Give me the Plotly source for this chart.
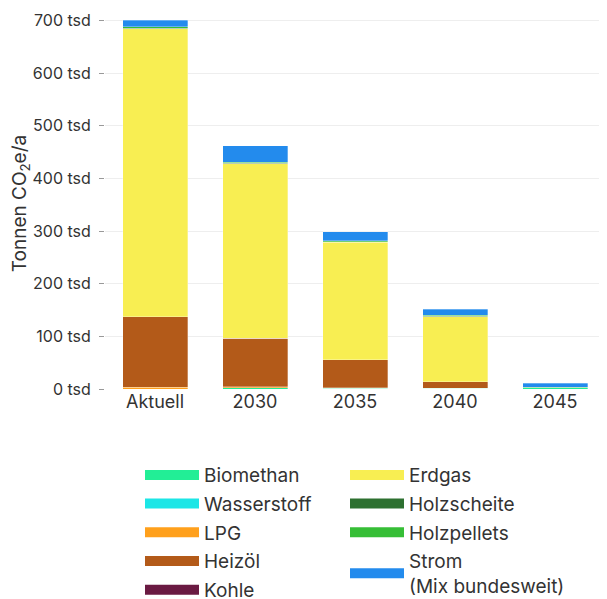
import plotly.graph_objects as go

years = ['Aktuell', '2030', '2035', '2040', '2045']

# values in tsd. t CO2e/a, stacked bottom to top
biomethan = [0, 2, 1, 1, 2]
wasserstoff = [0, 0, 0, 0, 0]
lpg = [3, 2, 1, 0, 0]
heizoel = [134, 92, 54, 13, 0]
kohle = [0, 0, 0, 0, 0]
erdgas = [548, 332, 223, 123, 0]
holzscheite = [1, 1, 1, 1, 0]
holzpellets = [2, 2, 2, 2, 1]
strom = [13, 31, 17, 12, 8]

y_ticks = [0, 100, 200, 300, 400, 500, 600, 700]

series = [
    ('Biomethan', biomethan, '#22ee96', 'legend'),
    ('Wasserstoff', wasserstoff, '#1ce6e6', 'legend'),
    ('LPG', lpg, '#ffa01c', 'legend'),
    ('Heizöl', heizoel, '#b35a19', 'legend'),
    ('Kohle', kohle, '#6a1a42', 'legend'),
    ('Erdgas', erdgas, '#f8ee52', 'legend2'),
    ('Holzscheite', holzscheite, '#2d7030', 'legend2'),
    ('Holzpellets', holzpellets, '#36be36', 'legend2'),
    ('Strom<br>(Mix bundesweit)', strom, '#238bed', 'legend2'),
]

fig = go.Figure()

for name, vals, color, leg in series:
    fig.add_trace(go.Bar(
        x=years, y=vals, name=name, marker_color=color,
        marker_line=dict(color='rgba(255,255,255,0.5)', width=0.6),
        showlegend=False,
    ))

# legend-only entries drawn as wide swatches
for name, vals, color, leg in series:
    fig.add_trace(go.Scatter(
        x=[years[0]], y=[None], mode='lines', name=name,
        line=dict(color=color, width=13), legend=leg, legendgroup=name,
    ))

legend_style = dict(
    orientation='v', yref='container', y=0.252, yanchor='top', xanchor='left',
    font=dict(size=19, color='#333333'), bgcolor='rgba(0,0,0,0)',
    traceorder='grouped', tracegroupgap=1, itemwidth=54,
)

# page body adds an 8px offset; figure is shifted back via margins
fig.update_layout(
    barmode='stack',
    bargap=0.35,
    width=599,
    height=599,
    margin=dict(l=97, r=2, t=4, b=218),
    plot_bgcolor='white',
    paper_bgcolor='white',
    font=dict(family='Inter, Open Sans, sans-serif', color='#333333'),
    xaxis=dict(tickfont=dict(size=18, color='#333333'), showgrid=False,
               showline=False, ticks=''),
    yaxis=dict(
        range=[0, 705],
        tickmode='array',
        tickvals=y_ticks,
        ticktext=[f'{v} tsd' for v in y_ticks],
        tickfont=dict(size=16, color='#333333'),
        ticks='outside', ticklen=5, tickcolor='#999999',
        ticklabelstandoff=5, ticklabeloverflow='allow',
        gridcolor='#eeeeee', zeroline=False,
        title=dict(text='Tonnen CO<sub>2</sub>e/a', font=dict(size=19, color='#333333'),
                   standoff=8),
    ),
    legend=dict(x=0.07, **legend_style),
    legend2=dict(x=0.48, **legend_style),
)

fig.write_html('out.html')
